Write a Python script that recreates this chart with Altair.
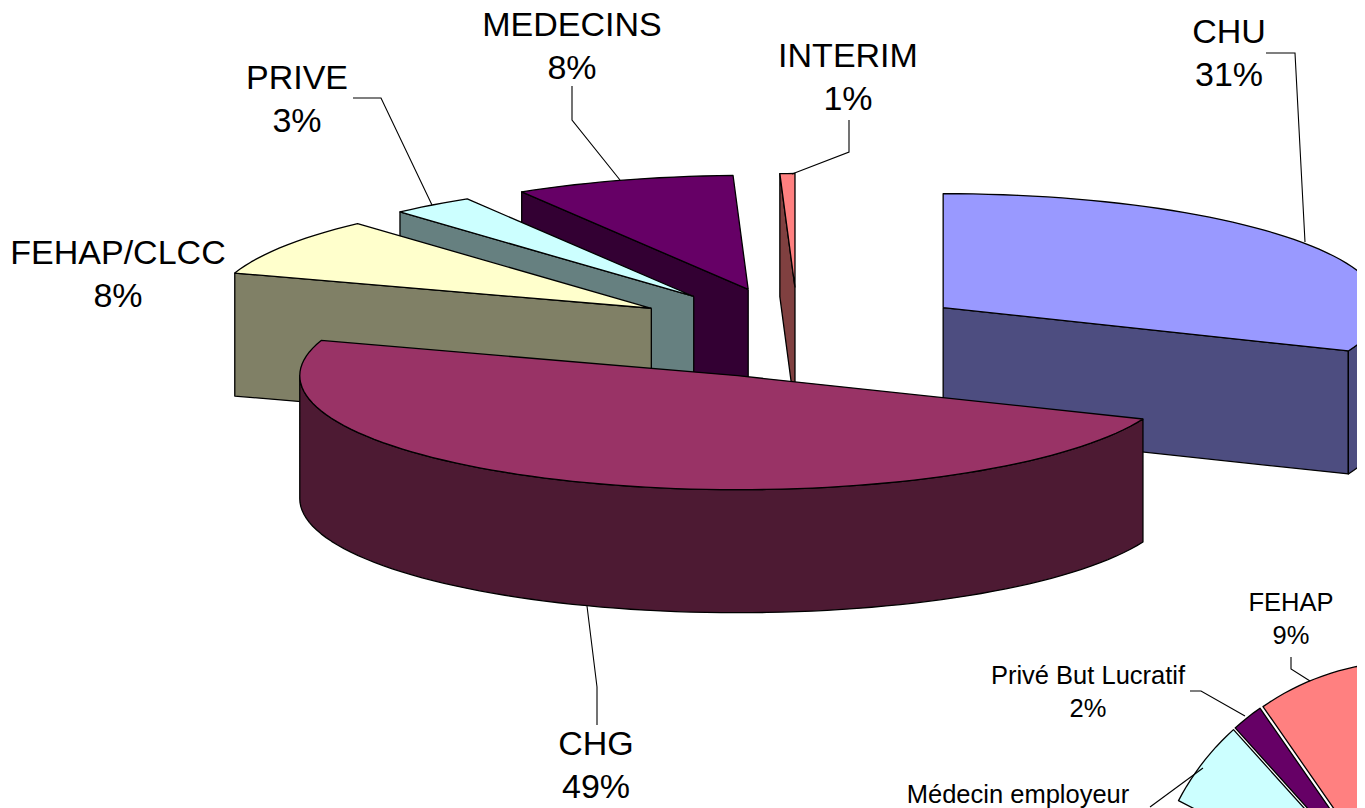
import math
import altair as alt
import pandas as pd

# ---- values ----
slices = ["CHU", "CHG", "FEHAP/CLCC", "PRIVE", "MEDECINS", "INTERIM"]
shares = [31.2, 48.8, 8.3, 3.05, 8.1, 0.55]
top_colors = ["#9999FF", "#993366", "#FFFFCC", "#CCFFFF", "#660066", "#FF8080"]
side_colors = ["#4D4D80", "#4D1A33", "#808066", "#668080", "#330033", "#804040"]
draw_order = ["MEDECINS", "PRIVE", "FEHAP/CLCC", "INTERIM", "CHU", "CHG"]

small_slices = ["FEHAP", "Privé But Lucratif", "Médecin employeur"]
small_shares = [9.0, 2.0, 5.7]
small_colors = ["#FF8080", "#660066", "#CCFFFF"]

label_names = ["CHU", "CHG", "FEHAP/CLCC", "PRIVE", "MEDECINS", "INTERIM"]
label_pcts = ["31%", "49%", "8%", "3%", "8%", "1%"]
label_x = [1229, 596, 118, 297, 572, 848]
label_y = [33, 745, 254, 79, 26, 57]

small_names = ["FEHAP", "Privé But Lucratif", "Médecin employeur"]
small_pcts = ["9%", "2%", ""]
small_x = [1291, 1088, 1018]
small_y = [603, 676, 795]

leaders = [
    [(1266, 53), (1295, 53), (1305, 242)],
    [(587, 606), (597, 687), (597, 725)],
    [(353, 98), (381, 98), (432, 205)],
    [(572, 86), (572, 120), (620, 180)],
    [(849, 120), (849, 152), (792, 174)],
    [(1291, 657), (1291, 669), (1310, 681)],
    [(1190, 691), (1201, 691), (1245, 716)],
    [(1203, 768), (1150, 807)],
]

# ---- projection of the 3-D pie ----
CX, CY, RX, RY, DEPTH, EXPLODE = 798, 333, 438, 114, 123, 0.399
SCX, SCY, SR, SEXP = 1410, 923, 252, 10
W, H = 1349, 800
X_DOM = [8, 8 + W]
Y_DOM = [8 + H, 8]


def pt(center, ang, rx, ry, dy=0):
    r = math.radians(ang)
    return (center[0] + rx * math.sin(r), center[1] - ry * math.cos(r) + dy)


def arc_pts(center, a0, a1, rx, ry, dy=0, step=2.0):
    n = max(2, int(abs(a1 - a0) / step) + 1)
    return [pt(center, a0 + (a1 - a0) * i / n, rx, ry, dy) for i in range(n + 1)]


def polygon(points, fill):
    pts = list(points) + [points[0]]
    df = pd.DataFrame({"x": [p[0] for p in pts], "y": [p[1] for p in pts], "i": range(len(pts))})
    return (
        alt.Chart(df)
        .mark_line(fill=fill, stroke="black", strokeWidth=1.3, clip=True, strokeJoin="round")
        .encode(
            x=alt.X("x:Q", scale=alt.Scale(domain=X_DOM), axis=None),
            y=alt.Y("y:Q", scale=alt.Scale(domain=Y_DOM), axis=None),
            order="i:Q",
        )
    )


def polyline(points):
    df = pd.DataFrame({"x": [p[0] for p in points], "y": [p[1] for p in points], "i": range(len(points))})
    return (
        alt.Chart(df)
        .mark_line(stroke="black", strokeWidth=1.1, clip=True)
        .encode(
            x=alt.X("x:Q", scale=alt.Scale(domain=X_DOM), axis=None),
            y=alt.Y("y:Q", scale=alt.Scale(domain=Y_DOM), axis=None),
            order="i:Q",
        )
    )


layers = []

# cumulative angles, clockwise from twelve o'clock
angles = {}
c = 0.0
for name, share in zip(slices, shares):
    angles[name] = (c * 3.6, (c + share) * 3.6)
    c += share

for name in draw_order:
    k = slices.index(name)
    a0, a1 = angles[name]
    mid = math.radians((a0 + a1) / 2)
    apex = (CX + EXPLODE * RX * math.sin(mid), CY - EXPLODE * RY * math.cos(mid))
    side = side_colors[k]
    if name == "CHU":
        p = pt(apex, a1, RX, RY)
        layers.append(polygon([apex, p, (p[0], p[1] + DEPTH), (apex[0], apex[1] + DEPTH)], side))
        upper = arc_pts(apex, 90, a1, RX, RY)
        lower = arc_pts(apex, a1, 90, RX, RY, DEPTH)
        layers.append(polygon(upper + lower, side))
    elif name == "CHG":
        upper = arc_pts(apex, a0, 270, RX, RY)
        lower = arc_pts(apex, 270, a0, RX, RY, DEPTH)
        layers.append(polygon(upper + lower, side))
    else:
        p = pt(apex, a0, RX, RY)
        layers.append(polygon([apex, p, (p[0], p[1] + DEPTH), (apex[0], apex[1] + DEPTH)], side))
    layers.append(polygon([apex] + arc_pts(apex, a0, a1, RX, RY), top_colors[k]))

# small flat pie, running anticlockwise from its right-hand edge
a = -2.4
for name, share, col in zip(small_slices, small_shares, small_colors):
    b = a - share * 3.6
    mid = math.radians((a + b) / 2)
    apex = (SCX + SEXP * math.sin(mid), SCY - SEXP * math.cos(mid))
    layers.append(polygon([apex] + arc_pts(apex, b, a, SR, SR), col))
    a = b

for line in leaders:
    layers.append(polyline(line))


def text_layer(names, pcts, xs, ys, size, gap):
    rows = []
    for n, q, x, y in zip(names, pcts, xs, ys):
        rows.append({"t": n, "x": x, "y": y})
        if q:
            rows.append({"t": q, "x": x, "y": y + gap})
    return (
        alt.Chart(pd.DataFrame(rows))
        .mark_text(font="Liberation Sans", fontSize=size, color="black", align="center", baseline="middle")
        .encode(
            x=alt.X("x:Q", scale=alt.Scale(domain=X_DOM), axis=None),
            y=alt.Y("y:Q", scale=alt.Scale(domain=Y_DOM), axis=None),
            text="t:N",
        )
    )


layers.append(text_layer(label_names, label_pcts, label_x, label_y, 34, 43))
layers.append(text_layer(small_names, small_pcts, small_x, small_y, 25.5, 33))

chart = (
    alt.layer(*layers)
    .properties(width=W, height=H, padding=0, autosize=alt.AutoSizeParams(type="none"), background="white")
    .configure_view(stroke=None)
)
chart.save("out.html", embed_options={"renderer": "svg", "actions": False})
